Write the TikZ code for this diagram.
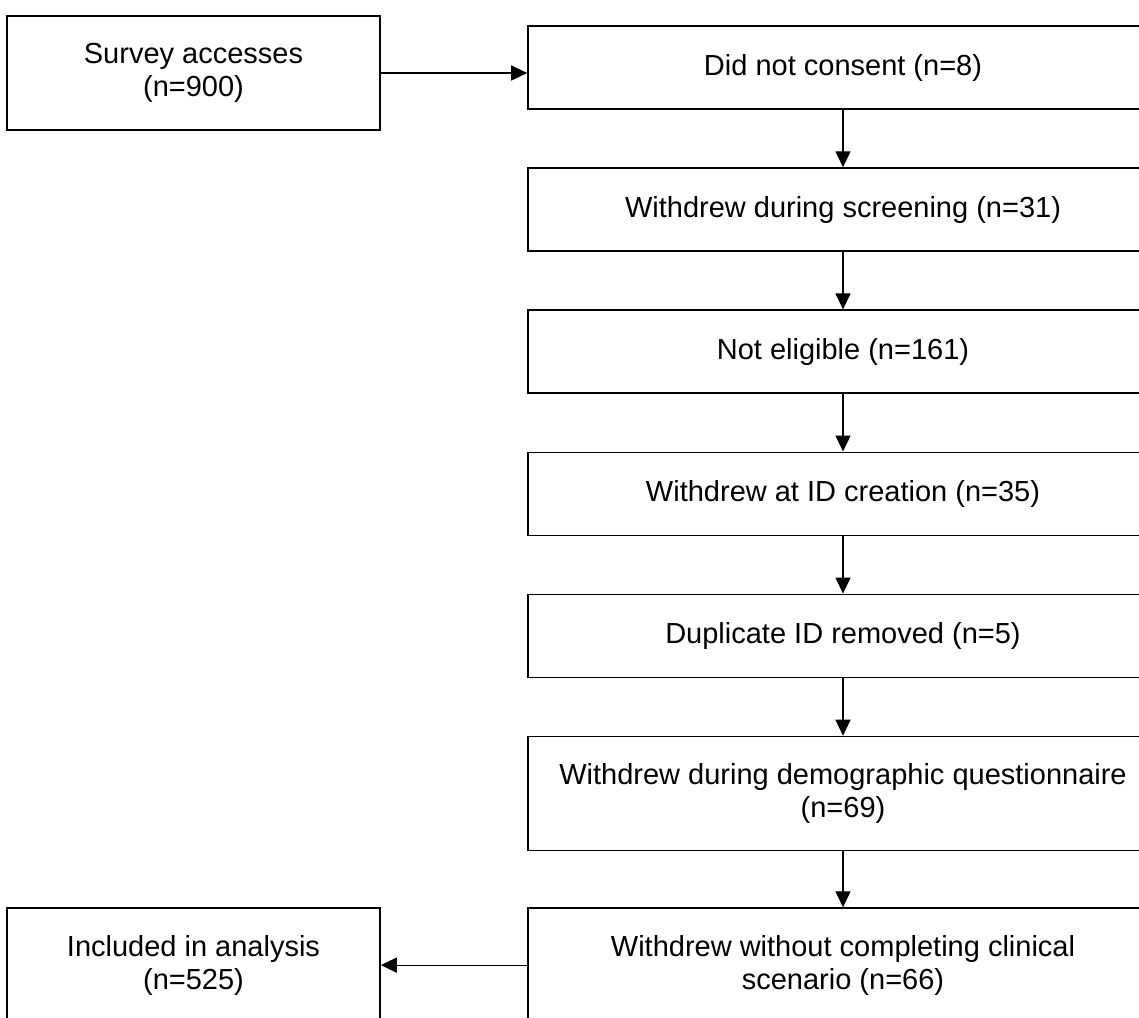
\documentclass[tikz,border=0pt]{standalone}
\usepackage{fontspec}
\setmainfont{Liberation Sans}
\usetikzlibrary{positioning, arrows.meta}

\begin{document}
\begin{tikzpicture}[
        x=1pt, y=-1pt,
        node distance=57.5pt,
        stage/.style={rectangle, draw, line width=1.6pt, minimum width=630pt, minimum height=83pt, inner sep=0pt, align=center, font=\fontsize{29}{33}\selectfont},
        tallstage/.style={stage, minimum height=114pt},
        side/.style={stage, minimum width=373pt, minimum height=114pt},
        arrow/.style={-{Triangle[length=16pt, width=15pt]}, line width=1.2pt}
    ]
        \useasboundingbox (0,0) rectangle (1139,1017);

        % Boxes
        \node (access) [side] at (193.5,73) {Survey accesses \\ (n=900)};
        \node (consent) [stage] at (843,67.5) {Did not consent (n=8)};
        \node (screen) [stage, below=of consent] {Withdrew during screening (n=31)};
        \node (eligible) [stage, below=of screen] {Not eligible (n=161)};
        \node (idcreate) [stage, below=of eligible] {Withdrew at ID creation (n=35)};
        \node (dupl) [stage, below=of idcreate] {Duplicate ID removed (n=5)};
        \node (demog) [tallstage, below=of dupl] {Withdrew during demographic questionnaire \\ (n=69)};
        \node (clinical) [tallstage, below=56pt of demog] {Withdrew without completing clinical \\ scenario (n=66)};
        \node (included) [side] at (access |- clinical) {Included in analysis \\ (n=525)};

        % Arrows
        \draw [arrow] (access.east) -- (access.east -| consent.west);
        \draw [arrow] (consent) -- (screen);
        \draw [arrow] (screen) -- (eligible);
        \draw [arrow] (eligible) -- (idcreate);
        \draw [arrow] (idcreate) -- (dupl);
        \draw [arrow] (dupl) -- (demog);
        \draw [arrow] (demog) -- (clinical);
        \draw [arrow] (clinical) -- (included);
    \end{tikzpicture}
\end{document}
